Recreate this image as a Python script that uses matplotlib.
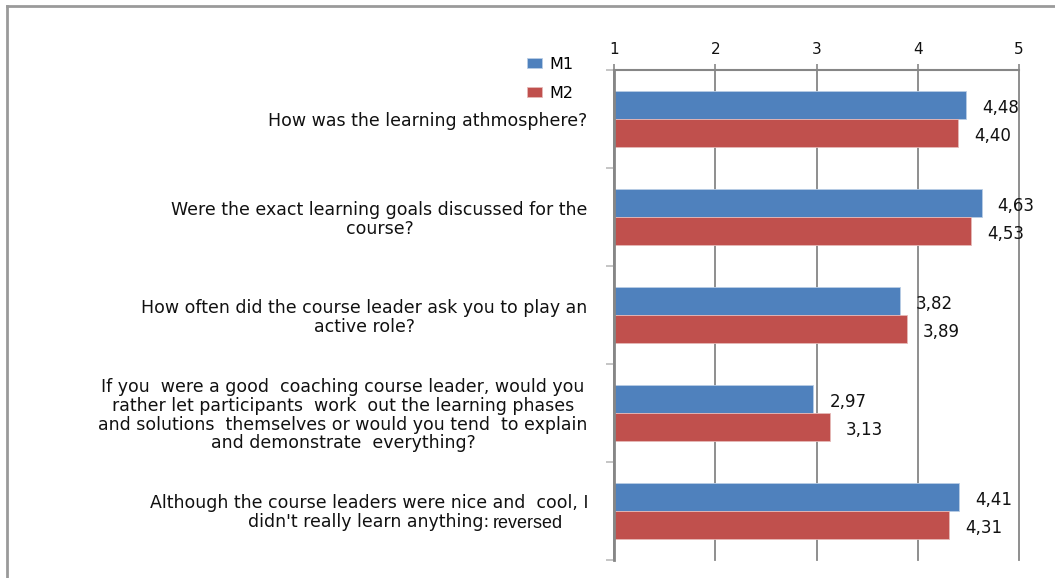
import matplotlib
matplotlib.use("Agg")
import matplotlib.pyplot as plt
from matplotlib.lines import Line2D
import numpy as np

plt.rcParams["font.family"] = ["DejaVu Sans"]

categories = [
    "How was the learning athmosphere?",
    "Were the exact learning goals discussed for the\ncourse?",
    "How often did the course leader ask you to play an\nactive role?",
    "If you  were a good  coaching course leader, would you\nrather let participants  work  out the learning phases\nand solutions  themselves or would you tend  to explain\nand demonstrate  everything?",
    "Although the course leaders were nice and  cool, I\ndidn't really learn anything:",
]
last_label_suffix = "reversed"
m1 = [4.48, 4.63, 3.82, 2.97, 4.41]
m2 = [4.40, 4.53, 3.89, 3.13, 4.31]
series_names = ["M1", "M2"]
x_ticks = [1, 2, 3, 4, 5]

W, H = 1055, 578
fig = plt.figure(figsize=(W / 100, H / 100), dpi=100)
AX_L, AX_R, AX_T, AX_B = 614, 1019, 70, 560
ax = fig.add_axes([AX_L / W, 1 - AX_B / H, (AX_R - AX_L) / W, (AX_B - AX_T) / H])

grey = "#868686"
blue = "#4F81BD"
red = "#C0504D"
txt = "#111111"
FS = 12.5
LS = 1.04

y = np.arange(len(categories))
h = 0.29
b1 = ax.barh(y - h / 2, np.array(m1) - 1, left=1, height=h, color=blue,
             edgecolor="#B9CDE5", linewidth=0.6, label=series_names[0], zorder=3)
b2 = ax.barh(y + h / 2, np.array(m2) - 1, left=1, height=h, color=red,
             edgecolor="#E6B9B8", linewidth=0.6, label=series_names[1], zorder=3)

fmt = lambda vals: [f"{v:.2f}".replace(".", ",") for v in vals]
for bars, vals in ((b1, m1), (b2, m2)):
    lbls = ax.bar_label(bars, labels=fmt(vals), padding=11.5, fontsize=12, color=txt)
    for t in lbls:
        t.set_va("center")
        t.xyann = (11.5, -2.2)

ax.set_xlim(1, 5)
ax.set_ylim(len(categories) - 0.5, -0.5)
ax.xaxis.tick_top()
ax.set_xticks(x_ticks)
ax.set_xticklabels([str(t) for t in x_ticks], fontsize=11, color=txt)
ax.tick_params(axis="x", which="major", length=4, color=grey, pad=5, width=1.2)
ax.grid(axis="x", color=grey, linewidth=1.3, zorder=0)
for gl in ax.get_xgridlines():
    gl.set_clip_on(False)

ax.set_yticks(np.arange(len(categories) + 1) - 0.5)
ax.set_yticklabels([])
ax.tick_params(axis="y", which="major", length=6, color="#BBBBBB", width=1.2)
ax.set_yticks(y, minor=True)
ax.set_yticklabels(categories[:-1] + [""], minor=True, fontsize=FS, ha="right",
                   multialignment="center", color=txt, linespacing=LS)
ax.tick_params(axis="y", which="minor", length=0, pad=19)

for s in ["right", "bottom"]:
    ax.spines[s].set_visible(False)
ax.spines["left"].set_color(grey)
ax.spines["left"].set_linewidth(2)
ax.spines["left"].set_zorder(4)
ax.spines["top"].set_color(grey)
ax.spines["top"].set_linewidth(1.5)
ax.spines["top"].set_bounds(1, 5)

ax.legend(loc="upper left", bbox_to_anchor=(519 / W, 1 - 49 / H),
          bbox_transform=fig.transFigure, frameon=False, fontsize=11.5,
          handlelength=0.95, handleheight=0.6, handletextpad=0.45,
          labelspacing=0.85, borderpad=0)

# outer chart border (left and top)
fig.add_artist(Line2D([7 / W, 7 / W], [0, 1 - 6 / H], transform=fig.transFigure,
                      color="#9a9a9a", linewidth=2))
fig.add_artist(Line2D([7 / W, 1], [1 - 6 / H, 1 - 6 / H], transform=fig.transFigure,
                      color="#9a9a9a", linewidth=2))

# last category label: two centred lines, then the suffix in another font
line1, line2 = categories[-1].split("\n")
yc_disp = ax.transData.transform((1, y[-1]))[1]          # display y of group centre
x_right = AX_L - 26
t1 = fig.text(x_right / W, (yc_disp + 8) / H, line1, fontsize=FS, color=txt,
              ha="right", va="center")
fig.canvas.draw()
r = fig.canvas.get_renderer()
bb1 = t1.get_window_extent(r)
xc = (bb1.x0 + bb1.x1) / 2
t2 = fig.text(xc / W, (yc_disp - 11) / H, line2, fontsize=FS, color=txt,
              ha="center", va="center")
fig.canvas.draw()
bb2 = t2.get_window_extent(r)
fig.text((bb2.x1 + 3) / W, (yc_disp - 12) / H, last_label_suffix, fontsize=13,
         family="Liberation Sans", color=txt, ha="left", va="center")

fig.savefig("out.png", dpi=100, facecolor="white")
